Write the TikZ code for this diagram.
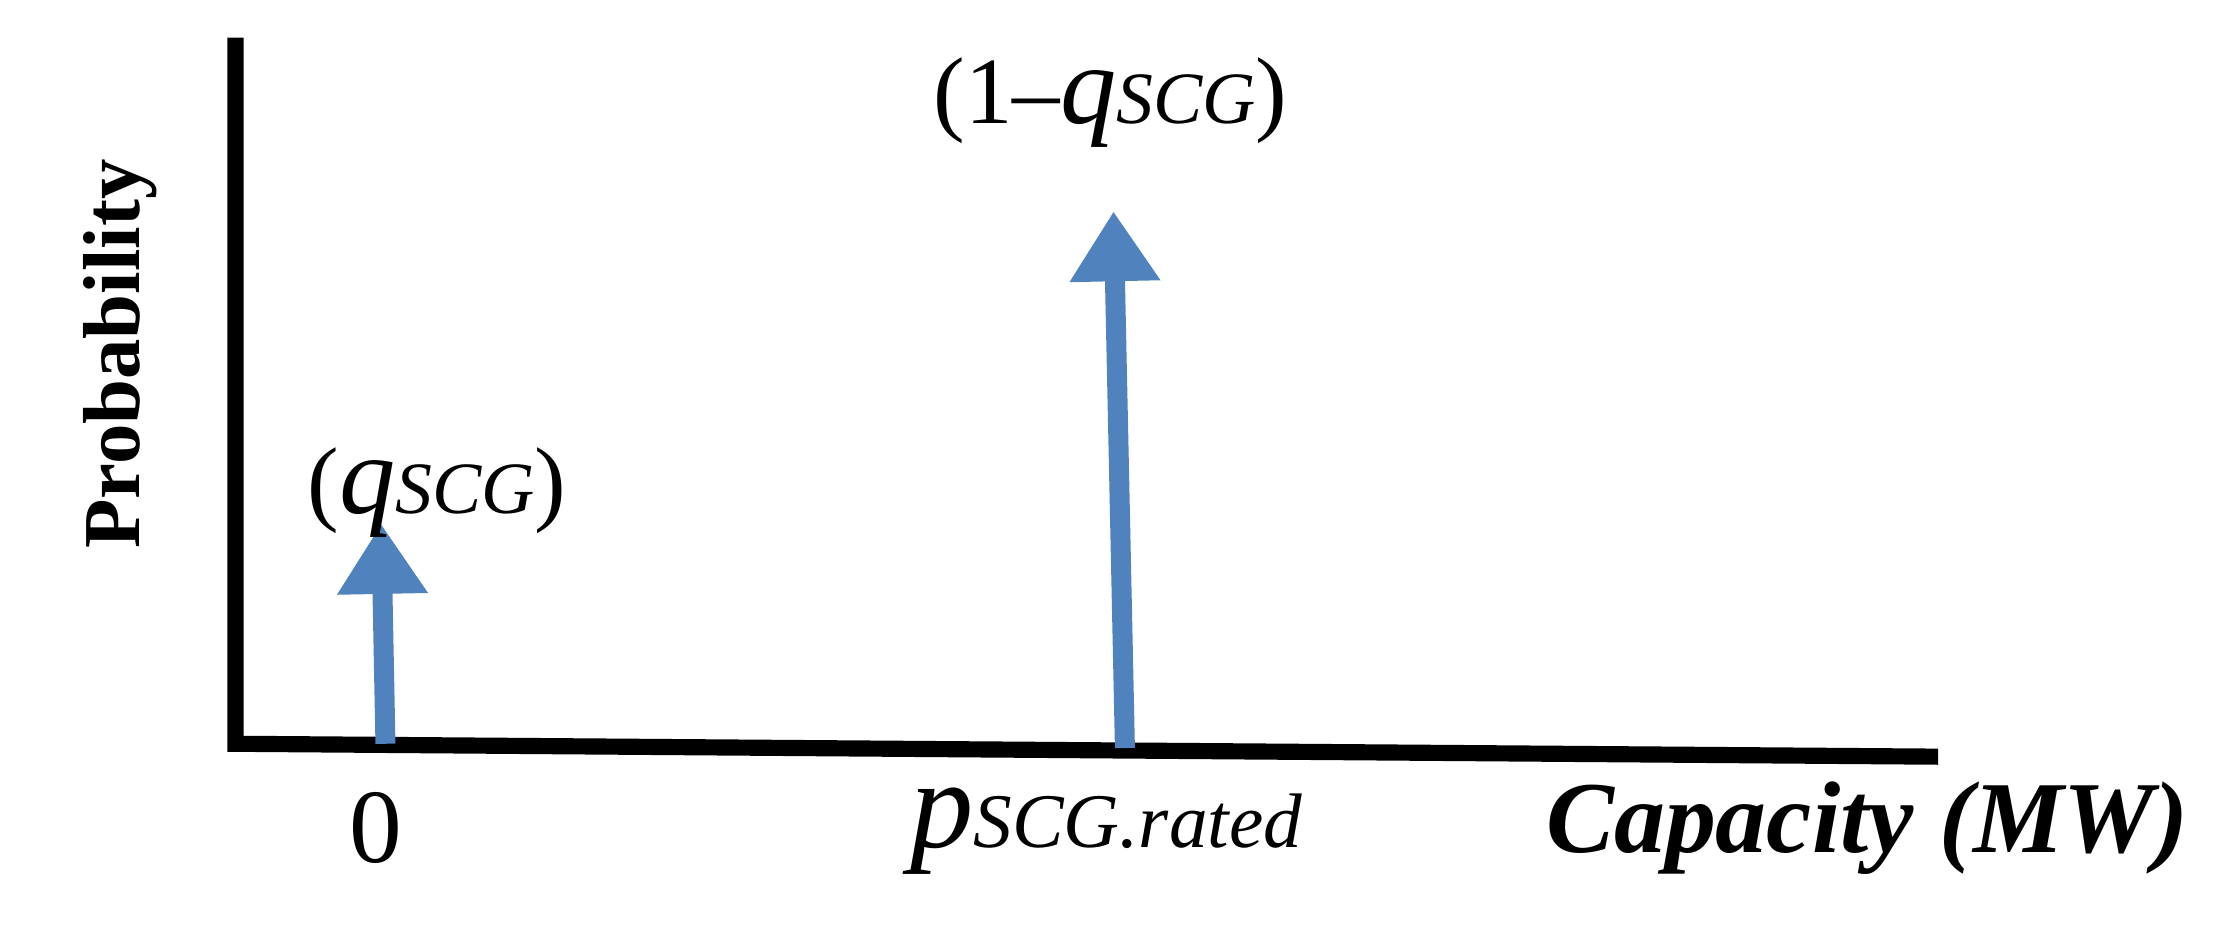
\documentclass[tikz,border=0pt]{standalone}
\usepackage{fontspec}
\setmainfont{Liberation Serif}
\usetikzlibrary{arrows.meta}
\definecolor{bl}{HTML}{5082BE}
\newcommand{\qq}{{\fontsize{32}{34}\selectfont\textit{q}}{\fontsize{21}{24}\selectfont\textit{SCG}}}
\begin{document}
\begin{tikzpicture}[x=0.014276cm,y=-0.014276cm,
  axis/.style={line width=4.6pt,black},
  spike/.style={bl,line width=0.2cm,-{Triangle[width=0.86cm,length=0.7cm]}},
  lab/.style={font=\fontsize{27}{30}\selectfont}]
\useasboundingbox (0,0) rectangle (1560,653);
\coordinate (o) at (165,521);
\coordinate (yt) at (165,32);
\coordinate (xe) at (1352,530);
\draw[axis,line cap=rect] (yt) -- (o) -- (xe);
\coordinate (b1) at (270,521);
\coordinate (t1) at (267,367);
\coordinate (b2) at (788,524);
\coordinate (t2) at (780,148);
\draw[spike] (b1) -- (t1);
\draw[spike] (b2) -- (t2);
\node[lab] (l1) at (306,345) {(\qq)};
\node[lab] (l2) at (778,72) {(1\textendash\qq)};
\node[lab,font=\fontsize{30}{32}\selectfont] (z) at (263,580) {0};
\node[lab] (p) at (775,582) {{\fontsize{36}{38}\selectfont\textit{p}}{\fontsize{22}{24}\selectfont\textit{SCG.rated}}};
\node[lab,font=\fontsize{29}{32}\selectfont\bfseries\itshape] (cap) at (1308,580) {Capacity (MW)};
\node[lab,font=\fontsize{23}{26}\selectfont\bfseries,rotate=90] (prob) at (84,248) {Probability};
\end{tikzpicture}
\end{document}
